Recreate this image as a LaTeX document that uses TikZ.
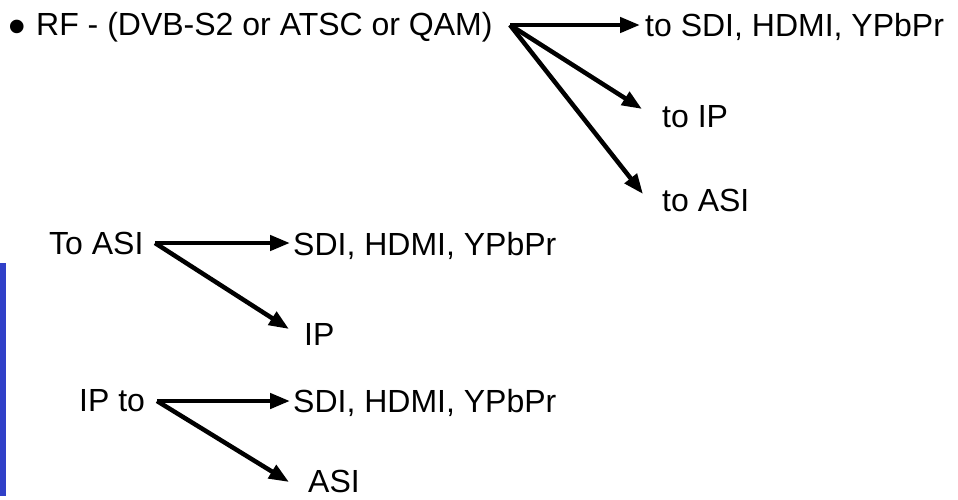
\documentclass[tikz,border=0pt]{standalone}
\usepackage{fontspec}
\setmainfont{Liberation Sans}
\usetikzlibrary{arrows.meta}
\definecolor{barblue}{RGB}{48,64,200}
\begin{document}
\begin{tikzpicture}[x=1pt,y=-1pt,
  lbl/.style={font=\fontsize{32}{38}\selectfont, inner sep=0pt, anchor=base west},
  arr/.style={line width=4.5pt, -{Triangle[length=20pt,width=15pt]}},
]
\useasboundingbox[fill=white] (0,0) rectangle (958,499);
\fill[barblue] (0,263) rectangle (6,496);
% group 1
\node[lbl, font=\fontsize{50}{50}\selectfont] (bul) at (8,43) {\textbullet};
\node[lbl] (rf) at (36,35) {RF - (DVB-S2 or ATSC or QAM)};
\coordinate (h1) at (510,25);
\node[lbl] (t1a) at (645,36) {to SDI, HDMI, YPbPr};
\node[lbl] (t1b) at (662,127) {to IP};
\node[lbl] (t1c) at (662,211) {to ASI};
\coordinate (e1a) at (640,25);
\coordinate (e1b) at (642,109);
\coordinate (e1c) at (643,194);
\draw[arr] (h1) -- (e1a);
\draw[arr] (h1) -- (e1b);
\draw[arr] (h1) -- (e1c);
% group 2
\node[lbl] (asi) at (49,254) {To ASI};
\coordinate (h2) at (155,243);
\node[lbl] (t2a) at (293,255) {SDI, HDMI, YPbPr};
\node[lbl] (t2b) at (304,345) {IP};
\coordinate (e2a) at (290,243);
\coordinate (e2b) at (289,329);
\draw[arr] (h2) -- (e2a);
\draw[arr] (h2) -- (e2b);
% group 3
\node[lbl] (ip) at (79,411) {IP to};
\coordinate (h3) at (157,401);
\node[lbl] (t3a) at (293,412) {SDI, HDMI, YPbPr};
\node[lbl] (t3b) at (308,492) {ASI};
\coordinate (e3a) at (290,401);
\coordinate (e3b) at (289,482);
\draw[arr] (h3) -- (e3a);
\draw[arr] (h3) -- (e3b);
\end{tikzpicture}
\end{document}
